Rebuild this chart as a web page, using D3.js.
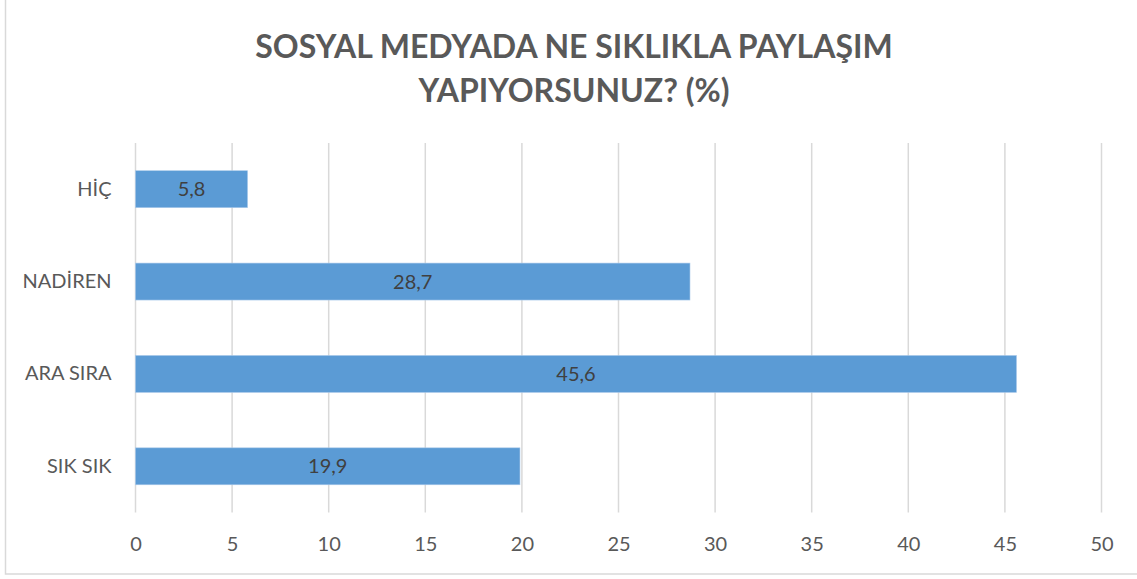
<!DOCTYPE html>
<html>
<head>
<meta charset="utf-8">
<script src="https://cdn.jsdelivr.net/npm/d3@7"></script>
<style>
  body { margin: 0; background: #fff; }
  text { font-family: Lato, "Open Sans", sans-serif; }
</style>
</head>
<body>
<div id="chart"></div>
<script>
const width = 1137;
const height = 579;

// veriler
const categories = ["HİÇ", "NADİREN", "ARA SIRA", "SIK SIK"];
const values = [5.8, 28.7, 45.6, 19.9];
const valueLabels = ["5,8", "28,7", "45,6", "19,9"];
const xTicks = [0, 5, 10, 15, 20, 25, 30, 35, 40, 45, 50];
const titleLines = ["SOSYAL MEDYADA NE SIKLIKLA PAYLAŞIM", "YAPIYORSUNUZ? (%)"];

const svg = d3.select("#chart")
  .append("svg")
  .attr("width", width)
  .attr("height", height);

// dış çerçeve
svg.append("rect")
  .attr("x", 5.5).attr("y", -2)
  .attr("width", width + 10).attr("height", 576)
  .attr("fill", "none")
  .attr("stroke", "#d9d9d9")
  .attr("stroke-width", 1.5);

// başlık
svg.selectAll(".title")
  .data(titleLines)
  .enter()
  .append("text")
  .attr("class", "title")
  .attr("x", 574)
  .attr("y", (d, i) => 58 + i * 44)
  .attr("text-anchor", "middle")
  .attr("font-size", 32)
  .attr("font-weight", "bold")
  .attr("fill", "#595959")
  .text(d => d);

const x = d3.scaleLinear().domain([0, 50]).range([135.5, 1101.5]);
const y = d3.scaleBand().domain(categories).range([143, 512.5]).paddingInner(0.6).paddingOuter(0.3);

// ızgara çizgileri
svg.selectAll(".grid")
  .data(xTicks)
  .enter()
  .append("line")
  .attr("x1", d => x(d)).attr("x2", d => x(d))
  .attr("y1", 143).attr("y2", 512.5)
  .attr("stroke", "#d9d9d9")
  .attr("stroke-width", 1.5);

// x ekseni
const xAxis = svg.append("g")
  .attr("transform", "translate(0,512.5)")
  .call(d3.axisBottom(x).tickValues(xTicks).tickSize(0).tickPadding(24));
xAxis.select(".domain").remove();
xAxis.selectAll("text")
  .attr("font-size", 20)
  .attr("fill", "#595959")
  .style("font-family", "Lato, 'Open Sans', sans-serif");

// y ekseni
const yAxis = svg.append("g")
  .attr("transform", "translate(135.5,0)")
  .call(d3.axisLeft(y).tickSize(0).tickPadding(24));
yAxis.select(".domain").remove();
yAxis.selectAll("text")
  .attr("font-size", 20)
  .attr("fill", "#595959")
  .style("font-family", "Lato, 'Open Sans', sans-serif");

// çubuklar
svg.selectAll(".bar")
  .data(values)
  .enter()
  .append("rect")
  .attr("class", "bar")
  .attr("x", x(0))
  .attr("y", (d, i) => y(categories[i]))
  .attr("width", d => x(d) - x(0))
  .attr("height", y.bandwidth())
  .attr("fill", "#5b9bd5")
  .attr("stroke", "#a9c9ea")
  .attr("stroke-width", 0.6);

// değer etiketleri
svg.selectAll(".label")
  .data(values)
  .enter()
  .append("text")
  .attr("class", "label")
  .attr("x", d => (x(0) + x(d)) / 2)
  .attr("y", (d, i) => y(categories[i]) + y.bandwidth() / 2)
  .attr("dy", "0.35em")
  .attr("text-anchor", "middle")
  .attr("font-size", 20)
  .attr("fill", "#404040")
  .text((d, i) => valueLabels[i]);
</script>
</body>
</html>
